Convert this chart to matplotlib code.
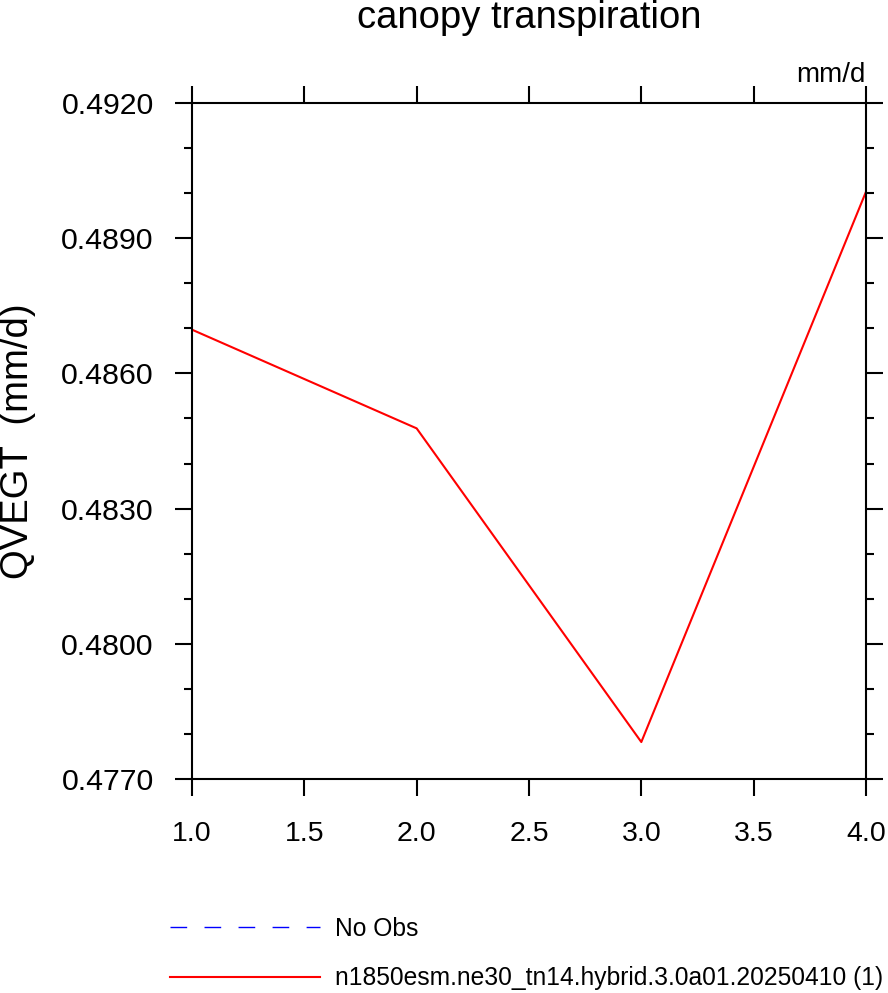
import matplotlib
matplotlib.use("Agg")
import matplotlib.pyplot as plt
from matplotlib.lines import Line2D
from matplotlib.ticker import MultipleLocator, FormatStrFormatter

plt.rcParams['font.family'] = ['Liberation Sans', 'DejaVu Sans']

# dados
anos = [1.0, 2.0, 3.0, 4.0]
qvegt = [0.48697, 0.48478, 0.47782, 0.49003]
rotulo_modelo = "n1850esm.ne30_tn14.hybrid.3.0a01.20250410 (1)"
rotulo_obs = "No Obs"

fig = plt.figure(figsize=(8.88, 9.93), dpi=100)
ax = fig.add_axes([0.2162, 0.2155, 0.7590, 0.6808])

ax.plot(anos, qvegt, color='red', lw=1.5)

ax.set_xlim(1.0, 4.0)
ax.set_ylim(0.4770, 0.4920)
ax.xaxis.set_major_locator(MultipleLocator(0.5))
ax.xaxis.set_major_formatter(FormatStrFormatter('%.1f'))
ax.yaxis.set_major_locator(MultipleLocator(0.003))
ax.yaxis.set_minor_locator(MultipleLocator(0.001))
ax.yaxis.set_major_formatter(FormatStrFormatter('%.4f'))

for s in ax.spines.values():
    s.set_linewidth(1.5)
ax.tick_params(which='both', direction='out', top=True, right=True, width=1.5)
ax.tick_params(which='major', length=12.5)
ax.tick_params(axis='x', which='major', pad=18, labelsize=20.5)
ax.tick_params(axis='y', which='major', pad=15, labelsize=21.8)
ax.tick_params(which='minor', length=6)

ax.set_ylabel("QVEGT  (mm/d)", fontsize=27.5)
ax.yaxis.set_label_coords(-0.232, 0.5)
ax.set_title("canopy transpiration", fontsize=27.5, y=1.111, pad=0)
ax.text(1.0, 1.022, "mm/d", transform=ax.transAxes, ha='right', va='bottom', fontsize=20)

# legenda embaixo
handles = [Line2D([], [], color='blue', lw=1, dashes=(12, 12.5)),
           Line2D([], [], color='red', lw=1.5)]
leg = fig.legend(handles, [rotulo_obs, rotulo_modelo], loc='upper left',
                 bbox_to_anchor=(0.1914, 0.077), frameon=False, fontsize=17.7,
                 handlelength=6.1, handletextpad=0.6, labelspacing=1.05,
                 borderaxespad=0, borderpad=0)

fig.savefig("out.png", dpi=100)
